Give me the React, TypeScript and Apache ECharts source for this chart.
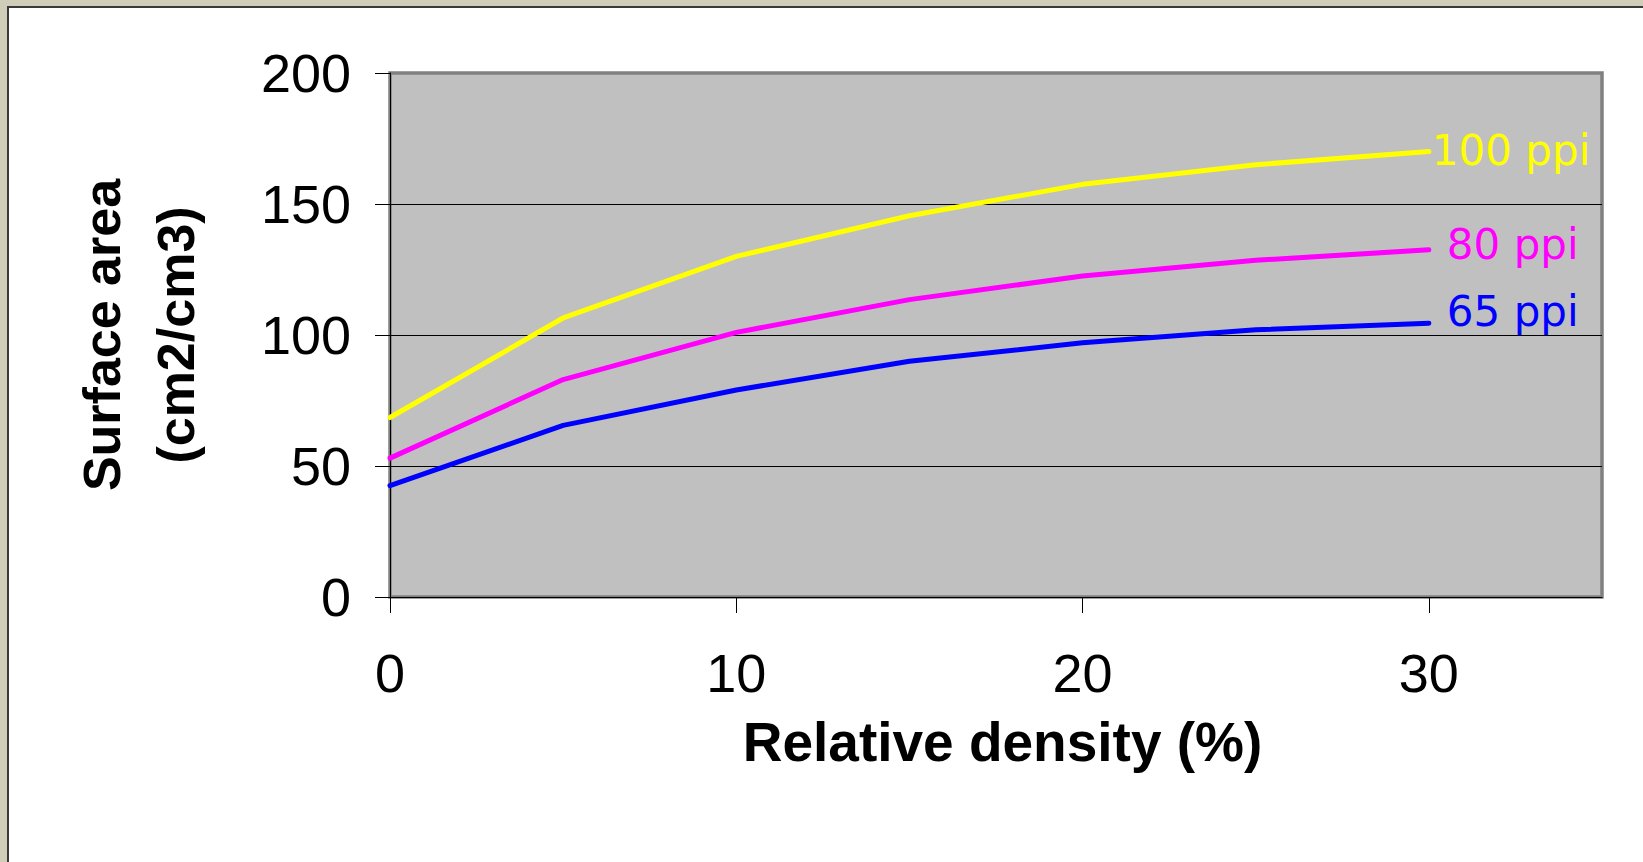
import React, { useEffect, useRef } from "react";
import * as echarts from "echarts";

const xValues = [0, 5, 10, 15, 20, 25, 30];
const ppi100 = [68.5, 106.5, 130, 145.5, 157.5, 165, 170];
const ppi80 = [53, 83, 101, 113.5, 122.5, 128.5, 132.5];
const ppi65 = [42.5, 65.5, 79, 90, 97, 102, 104.5];
const xTickValues = [0, 10, 20, 30];
const seriesNames = ["100 ppi", "80 ppi", "65 ppi"];
const seriesColors = ["#ffff00", "#ff00ff", "#0000ff"];

export default function App() {
  const ref = useRef<HTMLDivElement>(null);

  useEffect(() => {
    if (!ref.current) return;
    const chart = echarts.init(ref.current, null, { renderer: "svg" });
    const datasets = [ppi100, ppi80, ppi65];
    const labelOffsets = [
      [0, -1],
      [15, -5],
      [15, -12],
    ];
    chart.setOption({
      animation: false,
      grid: {
        left: 390,
        top: 73,
        right: 41,
        bottom: 265,
        show: true,
        backgroundColor: "#c0c0c0",
        borderColor: "#808080",
        borderWidth: 3.5,
      },
      xAxis: {
        type: "value",
        min: 0,
        max: 35,
        interval: 10,
        name: "Relative density (%)",
        nameLocation: "middle",
        nameGap: 117,
        nameTextStyle: {
          fontFamily: "Liberation Sans",
          fontWeight: "bold",
          fontSize: 55,
          color: "#000",
          padding: [0, 0, 0, 13],
        },
        axisLine: { show: true, lineStyle: { color: "#000", width: 1 } },
        axisTick: {
          show: true,
          length: 16,
          lineStyle: { color: "#000" },
          customValues: xTickValues,
        },
        axisLabel: {
          fontFamily: "Liberation Sans",
          fontSize: 54,
          color: "#000",
          margin: 49,
          customValues: xTickValues,
        },
        splitLine: { show: false },
      },
      yAxis: {
        type: "value",
        min: 0,
        max: 200,
        interval: 50,
        name: "Surface area\n(cm2/cm3)",
        nameLocation: "middle",
        nameRotate: 90,
        nameGap: 177,
        nameTextStyle: {
          fontFamily: "Liberation Sans",
          fontWeight: "bold",
          fontSize: 52,
          lineHeight: 74,
          color: "#000",
        },
        axisLine: { show: true, lineStyle: { color: "#000", width: 1 } },
        axisTick: { show: true, length: 15, lineStyle: { color: "#000" } },
        axisLabel: {
          fontFamily: "Liberation Sans",
          fontSize: 54,
          color: "#000",
          margin: 39,
        },
        splitLine: {
          show: true,
          showMinLine: false,
          showMaxLine: false,
          lineStyle: { color: "#000", width: 1 },
        },
      },
      series: datasets.map((vals, i) => ({
        name: seriesNames[i],
        type: "line",
        data: xValues.map((x, j) => [x, vals[j]]),
        showSymbol: false,
        symbol: "none",
        lineStyle: { color: seriesColors[i], width: 5, cap: "round", join: "round" },
        itemStyle: { color: seriesColors[i] },
        endLabel: {
          show: true,
          formatter: seriesNames[i],
          color: seriesColors[i],
          fontFamily: "DejaVu Sans",
          fontSize: 42,
          distance: 3,
          offset: labelOffsets[i],
        },
        z: 3 + i,
      })),
    });
    return () => chart.dispose();
  }, []);

  return (
    <div
      style={{
        position: "fixed",
        left: 0,
        top: 0,
        width: 1643,
        height: 862,
        background: "#d0ceb8",
        overflow: "hidden",
      }}
    >
      <div
        style={{
          position: "absolute",
          left: 7,
          top: 6,
          right: 0,
          bottom: 0,
          background: "#ffffff",
          borderLeft: "2px solid #3a3a3a",
          borderTop: "2px solid #3a3a3a",
        }}
      />
      <div
        ref={ref}
        style={{ position: "absolute", left: 0, top: 0, width: 1643, height: 862 }}
      />
    </div>
  );
}
